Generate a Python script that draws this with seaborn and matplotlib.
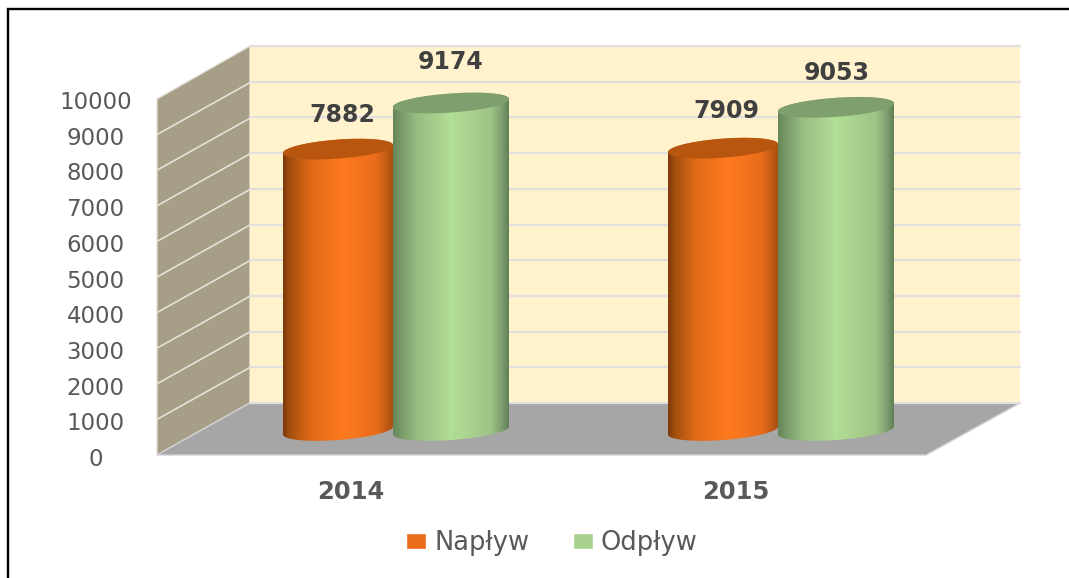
import numpy as np
import pandas as pd
import seaborn as sns
import matplotlib.pyplot as plt
from matplotlib.colors import LinearSegmentedColormap
from matplotlib.patches import Patch, Polygon

lata = ['2014', '2015']
naplyw = [7882, 7909]
odplyw = [9174, 9053]
serie = ['Napływ', 'Odpływ']
y_ticks = list(range(0, 10001, 1000))

# przesuniecia etykiet wartosci w pikselach (napływ 2014, 2015, odpływ 2014, 2015)
label_dx = [4, 3, 0, 1]
label_dy = [34, 37, 41, 34]

W, H = 1069, 578
PX_PER_UNIT = 0.0356


def add_axes_px(fig, x0, y_top, x1, y_bottom, **kw):
    # axes polozone w pikselach obrazka
    return fig.add_axes([x0 / W, 1 - y_bottom / H, (x1 - x0) / W, (y_bottom - y_top) / H], **kw)


def ellipse(cx, cy, a, b, tilt, t):
    return cx + a * np.cos(t), cy + tilt * np.cos(t) + b * np.sin(t)


df = pd.DataFrame({
    'rok': lata * 2,
    'wartosc': naplyw + odplyw,
    'seria': [serie[0]] * 2 + [serie[1]] * 2,
})

sns.set_theme(style='white')
plt.rcParams['font.family'] = 'DejaVu Sans'
fig = plt.figure(figsize=(W / 100, H / 100), dpi=100, facecolor='white')

# tlo w pikselach: ramka, lewa sciana, podloga
bg = fig.add_axes([0, 0, 1, 1], zorder=0)
bg.set_xlim(0, W)
bg.set_ylim(H, 0)
bg.axis('off')
bg.plot([7.5, 7.5, W], [H, 9, 9], color='black', lw=1.7, solid_joinstyle='miter')
bg.add_patch(Polygon([(157, 99), (250, 46), (250, 403), (157, 455)], fc='#A69E87', ec='#E4E1D8', lw=1))
bg.add_patch(Polygon([(157, 455), (250, 403), (1020, 403), (926, 455)], fc='#A6A6A6', ec='#D0D0D0', lw=1))

# tylna sciana
back = add_axes_px(fig, 250, 46, 1020, 403, zorder=1)
back.set_facecolor('#FFF2CC')
back.set_xlim(0, 1)
back.set_ylim(0, 10000)
back.set_xticks([])
back.set_yticks(y_ticks)
back.tick_params(left=False, labelleft=False)
back.grid(axis='y', color='#E2DFDF', lw=1.6)
for line in back.get_ygridlines():
    line.set_clip_on(False)
sns.despine(ax=back, left=True, bottom=True, right=True, top=True)

# przednia plaszczyzna: tylko opisy osi
front = add_axes_px(fig, 158, 100, 928, 457, zorder=2)
front.patch.set_alpha(0)
sns.barplot(data=df, x='rok', y='wartosc', hue='seria', ax=front, legend=False, alpha=0)
front.set_ylim(0, 10000)
front.set_yticks(y_ticks)
front.set_xlabel('')
front.set_ylabel('')
front.tick_params(axis='y', labelsize=16.5, labelcolor='#595959', pad=39, left=False)
front.tick_params(axis='x', labelsize=17.5, labelcolor='#595959', pad=10.5, bottom=False)
for lab in front.get_yticklabels():
    lab.set_ha('center')
for lab in front.get_xticklabels():
    lab.set_fontweight('bold')
sns.despine(ax=front, left=True, bottom=True)

# linie na lewej scianie
for v in y_ticks[1:-1]:
    bg.plot([157, 250], [455 - v * PX_PER_UNIT, 403 - v * PX_PER_UNIT], color='#E4E1D8', lw=1.2)

# slupki: plaszczyzna srodkowa, os dopasowana do ich podstawy
ax = add_axes_px(fig, 203.5, 73.5, 973.5, 430.5, zorder=3)
ax.patch.set_alpha(0)
sns.barplot(data=df, x='rok', y='wartosc', hue='seria', order=lata, hue_order=serie,
            width=0.587, gap=0, ax=ax, legend=False, saturation=1,
            palette=['#E96C1B', '#A9D18E'])
ax.set_ylim(0, 10000)
ax.set_xlim(-0.5, 1.5)
ax.axis('off')

cmap_o = LinearSegmentedColormap.from_list('o', [(0, '#7E3A0C'), (0.06, '#A34E0F'), (0.25, '#E06A17'),
                                                 (0.55, '#FF7A1F'), (0.85, '#E96C1B'), (1, '#A94F10')])
cmap_g = LinearSegmentedColormap.from_list('g', [(0, '#668759'), (0.2, '#97BC82'), (0.5, '#B3DE96'),
                                                 (0.85, '#9DC386'), (0.95, '#7A9A6C'), (1, '#5F7F56')])
b_e = 9.5 / PX_PER_UNIT
tilt = 4 / PX_PER_UNIT
gradient = np.linspace(0, 1, 256).reshape(1, -1)
# orange zachodzi pod zielony, zielony jest o kilka pikseli szerszy
shift = 3 / 385
bars = [p for p in ax.patches if p.get_height() > 0]
for i, bar in enumerate(bars):
    x0, w, top = bar.get_x(), bar.get_width(), bar.get_height()
    bar.set_visible(False)
    is_naplyw = i < 2
    if is_naplyw:
        w -= shift
    else:
        x0 -= shift
        w += shift
    cx = x0 + w / 2
    cmap = cmap_o if is_naplyw else cmap_g
    z = 4 if is_naplyw else 6
    xs1, ys1 = ellipse(cx, 0, w / 2, b_e, tilt, np.linspace(np.pi, 2 * np.pi, 60))
    xs2, ys2 = ellipse(cx, top, w / 2, b_e, tilt, np.linspace(0, np.pi, 60))
    body = Polygon(np.column_stack([np.r_[xs1, xs2], np.r_[ys1, ys2]]), fc='none', ec='none')
    ax.add_patch(body)
    im = ax.imshow(gradient, cmap=cmap, aspect='auto', zorder=z,
                   extent=[x0, x0 + w, -b_e * 1.5, top + b_e * 1.5])
    im.set_clip_box(fig.bbox)
    im.set_clip_path(body)
    xs, ys = ellipse(cx, top, w / 2, b_e, tilt, np.linspace(0, 2 * np.pi, 120))
    ax.add_patch(Polygon(np.column_stack([xs, ys]), fc='#B8560F' if is_naplyw else '#7F9F6E',
                         ec='none', zorder=z + 1, clip_on=False))
    ax.annotate(f'{top:.0f}', xy=(cx, top), xytext=(label_dx[i], label_dy[i]), textcoords='offset pixels',
                ha='center', va='center', fontsize=17, fontweight='bold', color='#404040',
                zorder=9, annotation_clip=False)
ax.set_ylim(0, 10000)
ax.set_xlim(-0.5, 1.5)

handles = [Patch(fc='#E96C1B', label=serie[0]), Patch(fc='#A9D18E', label=serie[1])]
fig.legend(handles=handles, loc='center', bbox_to_anchor=(552 / W, 1 - 543 / H), ncol=2, frameon=False,
           fontsize=18.5, labelcolor='#595959', handlelength=0.78, handleheight=0.6,
           handletextpad=0.31, columnspacing=1.7)

fig.savefig('out.png', dpi=100)
